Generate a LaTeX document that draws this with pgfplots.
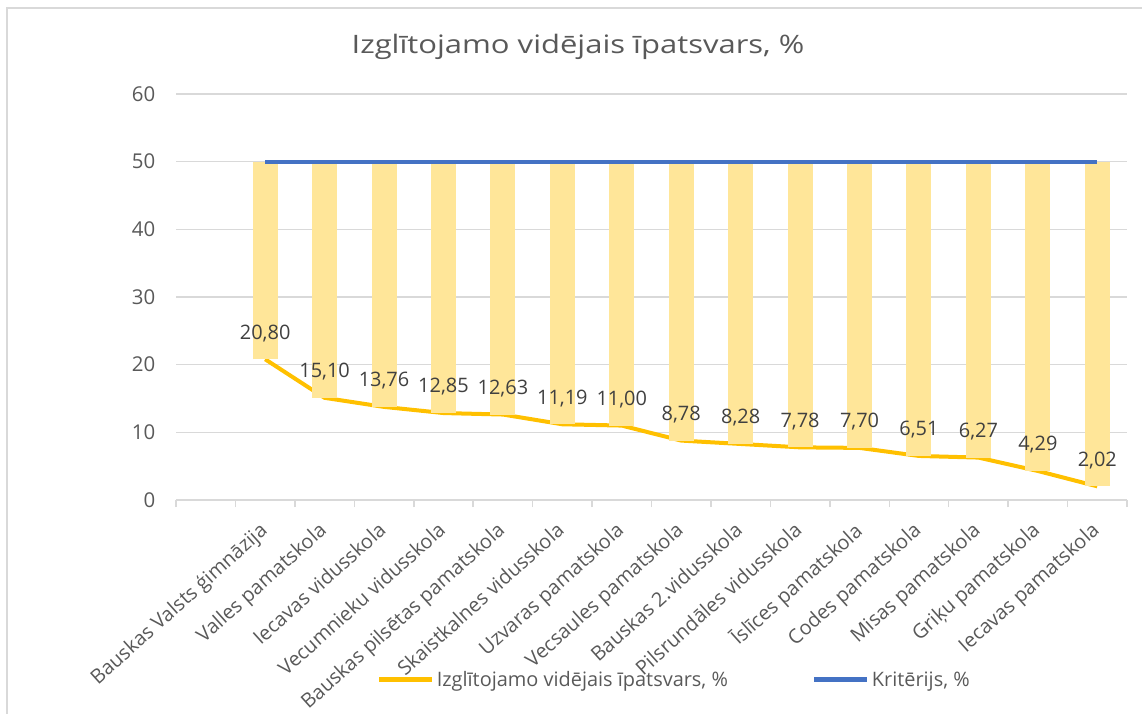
\documentclass[border=0pt]{standalone}
\usepackage{pgfplots}
\pgfplotsset{compat=1.18}
\usepackage{fontspec}
\setmainfont{Open Sans}
\newfontfamily\titlefont[FakeStretch=1.22]{Open Sans}
\definecolor{lineY}{HTML}{FFC000}
\definecolor{barY}{HTML}{FFE699}
\definecolor{lineB}{HTML}{4472C4}
\definecolor{gridc}{HTML}{D9D9D9}
\definecolor{txt}{HTML}{595959}
\definecolor{lbl}{HTML}{404040}
\pgfplotstableread{
x y len lab
1 20.80 29.20 20,80
2 15.10 34.90 15,10
3 13.76 36.24 13,76
4 12.85 37.15 12,85
5 12.63 37.37 12,63
6 11.19 38.81 11,19
7 11.00 39.00 11,00
8 8.78 41.22 8,78
9 8.28 41.72 8,28
10 7.78 42.22 7,78
11 7.70 42.30 7,70
12 6.51 43.49 6,51
13 6.27 43.73 6,27
14 4.29 45.71 4,29
15 2.02 47.98 2,02
}\datatable
\pgfplotstableread{
x y
1 50
2 50
3 50
4 50
5 50
6 50
7 50
8 50
9 50
10 50
11 50
12 50
13 50
14 50
15 50
}\crittable
\begin{document}
\begin{tikzpicture}
\path[use as bounding box] (0,0) rectangle (1142bp,714bp);
\draw[gridc, line width=2bp] (7bp,0) -- (7bp,706bp) -- (1142bp,706bp);
\node[txt, font=\titlefont\fontsize{25.5}{30}\selectfont] at (578bp,667bp) {Izglītojamo vidējais īpatsvars, \%};
\begin{axis}[
  at={(176bp,214bp)}, anchor=south west,
  scale only axis, width=951bp, height=406bp,
  xmin=-0.5, xmax=15.5, ymin=0, ymax=60,
  ytick={0,10,...,60},
  xtick={0,...,15},
  xticklabels={{},Bauskas Valsts ģimnāzija,Valles pamatskola,Iecavas vidusskola,Vecumnieku vidusskola,Bauskas pilsētas pamatskola,Skaistkalnes vidusskola,Uzvaras pamatskola,Vecsaules pamatskola,Bauskas 2.vidusskola,Pilsrundāles vidusskola,Īslīces pamatskola,Codes pamatskola,Misas pamatskola,Griķu pamatskola,Iecavas pamatskola},
  minor xtick={-0.5,0.5,...,15.5},
  major x tick style={draw=none},
  minor x tick style={gridc, line width=1.5bp},
  minor tick length=7bp,
  tick align=outside,
  axis x line*=bottom, axis y line*=left,
  x axis line style={gridc, line width=1.5bp},
  y axis line style={draw=none},
  major y tick style={draw=none},
  ymajorgrids, grid style={gridc, line width=1.5bp},
  /pgf/number format/assume math mode=true,
  yticklabel style={txt, font=\fontsize{20.5}{24}\selectfont, xshift=-13bp},
  x tick label style={txt, font=\fontsize{20}{24}\selectfont, xshift=-7bp, yshift=-15bp, rotate=42, anchor=north east, inner sep=1bp},
  legend columns=2,
  legend style={at={(0.211,-0.443)}, anchor=west, draw=none, fill=none, inner sep=0pt,
     font=\fontsize{20}{24}\selectfont, text=txt, /tikz/every even column/.append style={column sep=82bp}},
  legend image code/.code={\draw[#1, line width=5bp] (0bp,0bp) -- (53bp,0bp);},
  clip=false,
]
\addplot[lineY, line width=4bp, mark=none] table[x=x,y=y] {\datatable};
\addlegendentry{Izglītojamo vidējais īpatsvars, \%}
\addplot[draw=none, mark=none, forget plot,
  error bars/.cd, y dir=plus, y explicit, error mark=none,
  error bar style={draw=barY, line width=25bp, solid}]
  table[x=x, y=y, y error=len] {\datatable};
\addplot[lineB, line width=4bp, mark=none] table[x=x,y=y] {\crittable};
\addlegendentry{Kritērijs, \%}
\addplot[draw=none, mark=none, forget plot,
  point meta=explicit symbolic, nodes near coords,
  every node near coord/.append style={lbl, font=\fontsize{20}{24}\selectfont, anchor=center, yshift=26bp}]
  table[x=x, y=y, meta=lab] {\datatable};
\end{axis}
\end{tikzpicture}
\end{document}
